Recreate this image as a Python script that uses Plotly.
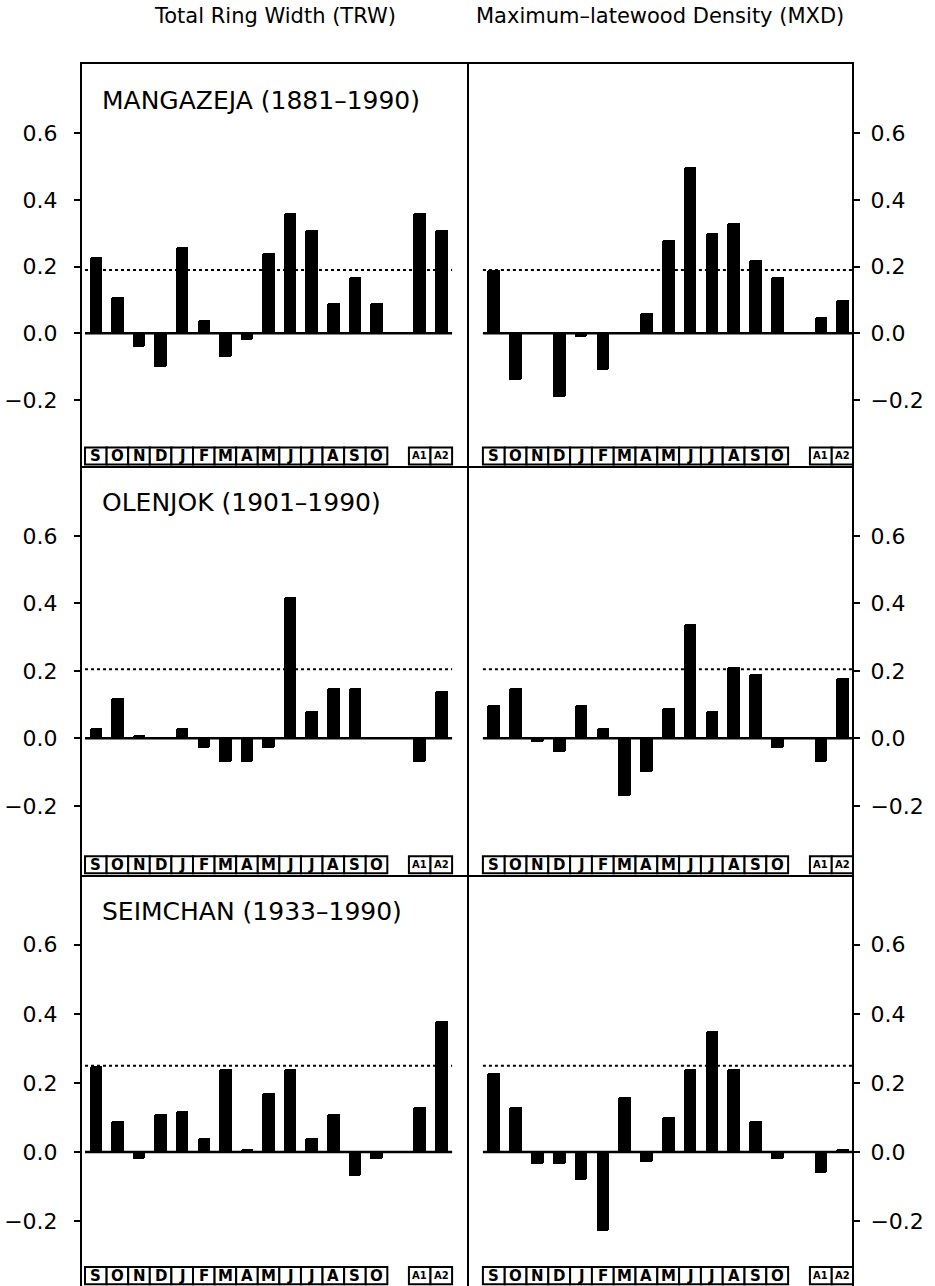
import plotly.graph_objects as go

# ---------------- data ----------------
months = ["S", "O", "N", "D", "J", "F", "M", "A", "M", "J", "J", "A", "S", "O"]
extras = ["A1", "A2"]

sites = ["MANGAZEJA (1881–1990)", "OLENJOK (1901–1990)", "SEIMCHAN (1933–1990)"]
column_titles = ["Total Ring Width (TRW)", "Maximum–latewood Density (MXD)"]

trw_mangazeja = [0.23, 0.11, -0.04, -0.10, 0.26, 0.04, -0.07, -0.02, 0.24, 0.36, 0.31, 0.09, 0.17, 0.09, 0.36, 0.31]
mxd_mangazeja = [0.19, -0.14, 0.00, -0.19, -0.01, -0.11, 0.00, 0.06, 0.28, 0.50, 0.30, 0.33, 0.22, 0.17, 0.05, 0.10]
trw_olenjok = [0.03, 0.12, 0.01, 0.00, 0.03, -0.03, -0.07, -0.07, -0.03, 0.42, 0.08, 0.15, 0.15, 0.00, -0.07, 0.14]
mxd_olenjok = [0.10, 0.15, -0.01, -0.04, 0.10, 0.03, -0.17, -0.10, 0.09, 0.34, 0.08, 0.21, 0.19, -0.03, -0.07, 0.18]
trw_seimchan = [0.25, 0.09, -0.02, 0.11, 0.12, 0.04, 0.24, 0.01, 0.17, 0.24, 0.04, 0.11, -0.07, -0.02, 0.13, 0.38]
mxd_seimchan = [0.23, 0.13, -0.035, -0.035, -0.08, -0.23, 0.16, -0.03, 0.10, 0.24, 0.35, 0.24, 0.09, -0.02, -0.06, 0.01]

significance = [0.19, 0.205, 0.25]
y_ticks = [-0.2, 0.0, 0.2, 0.4, 0.6]

series = [[trw_mangazeja, mxd_mangazeja],
          [trw_olenjok, mxd_olenjok],
          [trw_seimchan, mxd_seimchan]]

# ---------------- layout geometry ----------------
W, H = 935, 1286
mt, mb, ml, mr = 64, 0, 82, 83
ph = H - mt - mb
row_pix = [(64, 466), (466, 875), (875, 1286)]
row_dom = [[(H - mb - b) / ph, (H - mb - t) / ph] for t, b in row_pix]
row_dom[0][1] = 1.0
row_dom[2][0] = 0.0
col_dom = [[0.0, 0.5], [0.5, 1.0]]
y_ranges = [[-0.398, 0.808], [-0.405, 0.807], [-0.388, 0.802]]
x_ranges = [[-0.64, 17.19], [-1.23, 16.43]]

labels = months + extras
xpos = list(range(len(months))) + [len(months) + 1 + i for i in range(len(extras))]

FONT = "DejaVu Sans"
fig = go.Figure()
shapes = []
annotations = []

for r in range(3):
    for c in range(2):
        k = r * 2 + c + 1
        xa = "x" if k == 1 else f"x{k}"
        ya = "y" if k == 1 else f"y{k}"
        vals = series[r][c]
        fig.add_trace(go.Bar(
            x=xpos, y=vals, xaxis=xa, yaxis=ya, width=0.58,
            marker=dict(color="black", line=dict(width=0), cornerradius=2),
            showlegend=False, hoverinfo="x+y"))

        xkey = "xaxis" if k == 1 else f"xaxis{k}"
        ykey = "yaxis" if k == 1 else f"yaxis{k}"
        fig.layout[xkey] = dict(
            domain=col_dom[c], anchor=ya, range=x_ranges[c], automargin=False,
            showline=True, mirror=(r == 0), linewidth=2, linecolor="black",
            showgrid=False, zeroline=False, showticklabels=False, ticks="")
        fig.layout[ykey] = dict(
            domain=row_dom[r], anchor=xa, range=y_ranges[r], automargin=False,
            side="left" if c == 0 else "right",
            showline=True, mirror=(c == 0), linewidth=2, linecolor="black",
            showgrid=False, zeroline=False,
            ticks="outside", ticklen=6, tickwidth=2, tickcolor="black",
            tickvals=y_ticks, tickformat=".1f",
            ticklabelstandoff=12 if c == 0 else 6,
            tickfont=dict(family=FONT, size=22, color="black"))

        # zero line
        shapes.append(dict(type="line", xref=xa, yref=ya, x0=-0.5, x1=xpos[-1] + 0.5,
                           y0=0, y1=0, line=dict(color="black", width=2.5)))
        # significance line
        shapes.append(dict(type="line", xref=xa, yref=ya, x0=-0.5, x1=xpos[-1] + 0.5,
                           y0=significance[r], y1=significance[r], layer="below",
                           line=dict(color="black", width=2, dash="dot")))
        # month label boxes
        for lab, xp in zip(labels, xpos):
            shapes.append(dict(type="rect", xref=xa, yref=f"{ya} domain",
                               x0=xp - 0.5, x1=xp + 0.5, y0=0.004, y1=0.046,
                               line=dict(color="black", width=2), fillcolor="white"))
            annotations.append(dict(
                x=xp, y=0.025, xref=xa, yref=f"{ya} domain", text=f"<b>{lab}</b>",
                showarrow=False, xanchor="center", yanchor="middle",
                font=dict(family=FONT, size=15 if len(lab) == 1 else 10, color="black")))

        if c == 0:
            annotations.append(dict(
                x=0.047, y=0.91, xref=f"{xa} domain", yref=f"{ya} domain",
                text=sites[r], showarrow=False, xanchor="left", yanchor="middle",
                font=dict(family=FONT, size=25, color="black")))

for c in range(2):
    annotations.append(dict(
        x=sum(col_dom[c]) / 2, y=(H - mb - 16) / ph, xref="paper", yref="paper",
        text=column_titles[c], showarrow=False, xanchor="center", yanchor="middle",
        font=dict(family=FONT, size=21, color="black")))

fig.update_layout(
    width=W, height=H,
    margin=dict(l=ml, r=mr, t=mt, b=mb, pad=0, autoexpand=False),
    paper_bgcolor="white", plot_bgcolor="white",
    shapes=shapes, annotations=annotations,
    bargap=0, showlegend=False,
    font=dict(family=FONT, color="black"))

fig.write_html("out.html")
